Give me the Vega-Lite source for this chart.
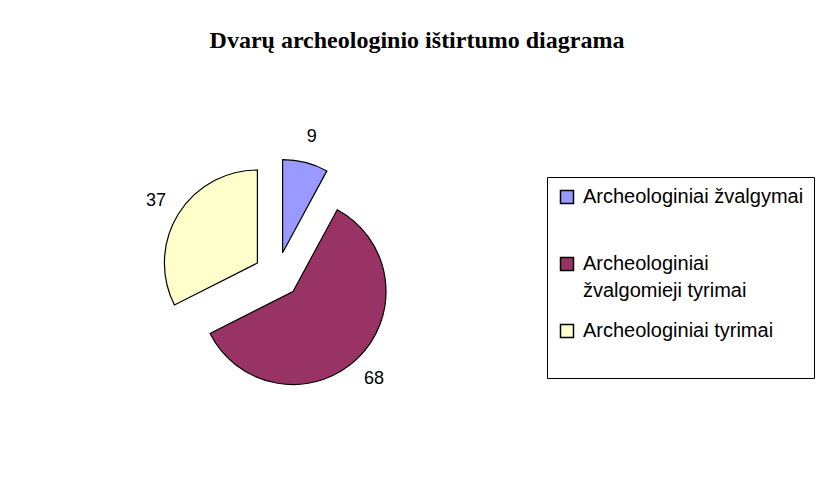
{
  "$schema": "https://vega.github.io/schema/vega-lite/v6.json",
  "autosize": {"type": "none"},
  "padding": {"left": 77, "top": 75, "right": 352, "bottom": 7},
  "width": 400,
  "height": 400,
  "background": "white",
  "config": {
    "view": {"stroke": null},
    "style": {"guide-label": {"lineHeight": 27}},
    "legend": {
      "strokeColor": "black",
      "padding": 10,
      "labelFont": "Liberation Sans",
      "labelFontSize": 20,
      "labelColor": "black",
      "symbolType": "square",
      "symbolSize": 169,
      "symbolStrokeColor": "black",
      "symbolStrokeWidth": 1.5,
      "symbolOpacity": 1,
      "labelOffset": 6,
      "rowPadding": 20,
      "labelLimit": 400
    }
  },
  "title": {
    "text": "Dvarų archeologinio ištirtumo diagrama",
    "font": "Liberation Serif",
    "fontSize": 24,
    "fontWeight": "bold",
    "color": "black",
    "anchor": "middle",
    "frame": "group",
    "dx": 140,
    "offset": 22
  },
  "data": {
    "values": [
      {"category": "Archeologiniai žvalgymai", "value": 9},
      {"category": "Archeologiniai žvalgomieji tyrimai", "value": 68},
      {"category": "Archeologiniai tyrimai", "value": 37}
    ]
  },
  "transform": [
    {"joinaggregate": [{"op": "sum", "field": "value", "as": "total"}]},
    {"window": [{"op": "sum", "field": "value", "as": "cum"}], "frame": [null, 0]},
    {"calculate": "(datum.cum - datum.value) / datum.total", "as": "f0"},
    {"calculate": "datum.cum / datum.total", "as": "f1"},
    {"calculate": "(datum.f0 + datum.f1) / 2", "as": "fm"}
  ],
  "layer": [
    {
      "transform": [{"filter": "datum.category == 'Archeologiniai žvalgymai'"}],
      "layer": [
        {
          "mark": {"type": "arc", "outerRadius": 93, "stroke": "black", "strokeWidth": 1.2, "xOffset": 5.6, "yOffset": -22.3},
          "encoding": {
            "theta": {"field": "f0", "type": "quantitative", "stack": null, "scale": {"domain": [0, 1]}},
            "theta2": {"field": "f1"},
            "color": {
              "field": "category", "type": "nominal",
              "scale": {
                "domain": ["Archeologiniai žvalgymai", "Archeologiniai žvalgomieji tyrimai", "Archeologiniai tyrimai"],
                "range": ["#9999FF", "#993366", "#FFFFCC"]
              },
              "legend": {
                "title": null,
                "orient": "none",
                "legendX": 470,
                "legendY": 102,
                "labelExpr": "datum.label == 'Archeologiniai žvalgomieji tyrimai' ? ['Archeologiniai', 'žvalgomieji tyrimai'] : [datum.label, ' ']"
              }
            }
          }
        },
        {
          "mark": {"type": "text", "radius": 119, "font": "Liberation Sans", "fontSize": 18, "color": "black", "align": "center", "baseline": "middle", "xOffset": 5.6, "yOffset": -22.3},
          "encoding": {
            "theta": {"field": "fm", "type": "quantitative", "stack": null, "scale": {"domain": [0, 1]}},
            "text": {"field": "value", "type": "quantitative"}
          }
        }
      ]
    },
    {
      "transform": [{"filter": "datum.category == 'Archeologiniai žvalgomieji tyrimai'"}],
      "layer": [
        {
          "mark": {"type": "arc", "outerRadius": 93, "stroke": "black", "strokeWidth": 1.2, "xOffset": 16.0, "yOffset": 16.5},
          "encoding": {
            "theta": {"field": "f0", "type": "quantitative", "stack": null, "scale": {"domain": [0, 1]}},
            "theta2": {"field": "f1"},
            "color": {"field": "category", "type": "nominal"}
          }
        },
        {
          "mark": {"type": "text", "radius": 119, "font": "Liberation Sans", "fontSize": 18, "color": "black", "align": "center", "baseline": "middle", "xOffset": 14.0, "yOffset": 18.5},
          "encoding": {
            "theta": {"field": "fm", "type": "quantitative", "stack": null, "scale": {"domain": [0, 1]}},
            "text": {"field": "value", "type": "quantitative"}
          }
        }
      ]
    },
    {
      "transform": [{"filter": "datum.category == 'Archeologiniai tyrimai'"}],
      "layer": [
        {
          "mark": {"type": "arc", "outerRadius": 93, "stroke": "black", "strokeWidth": 1.2, "xOffset": -19.6, "yOffset": -12.0},
          "encoding": {
            "theta": {"field": "f0", "type": "quantitative", "stack": null, "scale": {"domain": [0, 1]}},
            "theta2": {"field": "f1"},
            "color": {"field": "category", "type": "nominal"}
          }
        },
        {
          "mark": {"type": "text", "radius": 119, "font": "Liberation Sans", "fontSize": 18, "color": "black", "align": "center", "baseline": "middle", "xOffset": -19.6, "yOffset": -12.0},
          "encoding": {
            "theta": {"field": "fm", "type": "quantitative", "stack": null, "scale": {"domain": [0, 1]}},
            "text": {"field": "value", "type": "quantitative"}
          }
        }
      ]
    }
  ]
}
